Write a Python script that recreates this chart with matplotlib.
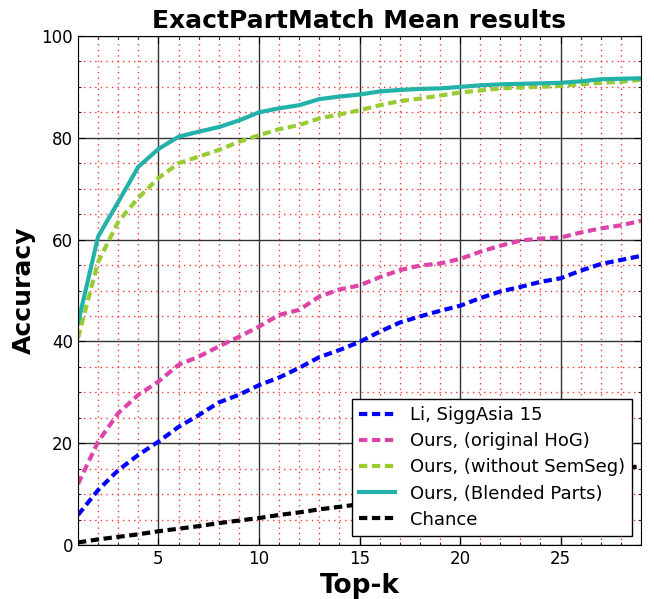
import matplotlib
matplotlib.use("Agg")
import matplotlib.pyplot as plt
from matplotlib.ticker import MultipleLocator

top_k = list(range(1, 30))

li_sigg = [5.9, 10.8, 14.7, 17.7, 20.3, 23.2, 25.5, 28.0, 29.5, 31.4,
           32.9, 34.8, 36.9, 38.3, 39.9, 41.9, 43.7, 44.9, 46.0, 47.0,
           48.5, 49.8, 50.7, 51.7, 52.4, 53.9, 55.2, 56.0, 56.8]
ours_hog = [12.0, 20.3, 25.9, 29.5, 32.1, 35.4, 37.0, 39.0, 40.9, 42.9,
            45.2, 46.2, 48.8, 50.2, 51.0, 52.6, 54.0, 54.9, 55.3, 56.2,
            57.6, 58.8, 59.8, 60.2, 60.4, 61.4, 62.2, 62.8, 63.7]
ours_nosem = [40.7, 55.6, 63.5, 68.2, 72.1, 75.0, 76.3, 77.6, 79.2, 80.5,
              81.7, 82.5, 83.8, 84.6, 85.4, 86.4, 87.2, 87.7, 88.3, 88.9,
              89.3, 89.7, 89.9, 90.0, 90.2, 90.5, 90.8, 91.0, 91.4]
ours_blend = [43.6, 60.6, 67.4, 74.3, 77.8, 80.2, 81.2, 82.1, 83.4, 85.0,
              85.8, 86.4, 87.6, 88.1, 88.5, 89.1, 89.4, 89.6, 89.7, 90.0,
              90.3, 90.5, 90.6, 90.7, 90.8, 91.1, 91.5, 91.6, 91.7]
chance = [0.5, 1.1, 1.6, 2.1, 2.7, 3.2, 3.7, 4.3, 4.8, 5.3,
          5.9, 6.4, 7.0, 7.5, 8.0, 8.6, 9.1, 9.6, 10.2, 10.7,
          11.2, 11.8, 12.3, 12.8, 13.4, 13.9, 14.4, 15.0, 15.5]

fig = plt.figure(figsize=(6.54, 5.99), dpi=100)
ax = fig.add_axes([78 / 654, 54 / 599, 563 / 654, 509 / 599])

dash = (2.0, 1.1)
ax.plot(top_k, li_sigg, color="#0000ff", lw=3, dashes=dash, label="Li, SiggAsia 15")
ax.plot(top_k, ours_hog, color="#dd44aa", lw=3, dashes=dash, label="Ours, (original HoG)")
ax.plot(top_k, ours_nosem, color="#99cc33", lw=3, dashes=dash, label="Ours, (without SemSeg)")
ax.plot(top_k, ours_blend, color="#22b2aa", lw=3, label="Ours, (Blended Parts)")
ax.plot(top_k, chance, color="black", lw=3, dashes=dash, label="Chance")

ax.set_xlim(1, 29)
ax.set_ylim(0, 100)
ax.xaxis.set_major_locator(MultipleLocator(5))
ax.xaxis.set_minor_locator(MultipleLocator(1))
ax.yaxis.set_major_locator(MultipleLocator(20))
ax.yaxis.set_minor_locator(MultipleLocator(5))
ax.grid(which="minor", color="red", linestyle=(0, (1, 3)), lw=1, alpha=0.8)
ax.grid(which="major", color="#333333", linestyle="-", lw=1)
ax.set_axisbelow(True)
ax.tick_params(which="both", direction="in", top=True, right=True, labelsize=12)
ax.tick_params(which="major", length=5)
ax.tick_params(which="minor", length=2.5)

ax.set_title("ExactPartMatch Mean results", fontsize=18, fontweight="bold")
ax.set_xlabel("Top-k", fontsize=19, fontweight="bold")
ax.set_ylabel("Accuracy", fontsize=18, fontweight="bold")

leg = ax.legend(loc="lower right", fontsize=13, fancybox=False, framealpha=1,
                edgecolor="black", handlelength=2.0, borderaxespad=0.5,
                labelspacing=0.45)
leg.get_frame().set_linewidth(1)

fig.savefig("out.png", dpi=100)
